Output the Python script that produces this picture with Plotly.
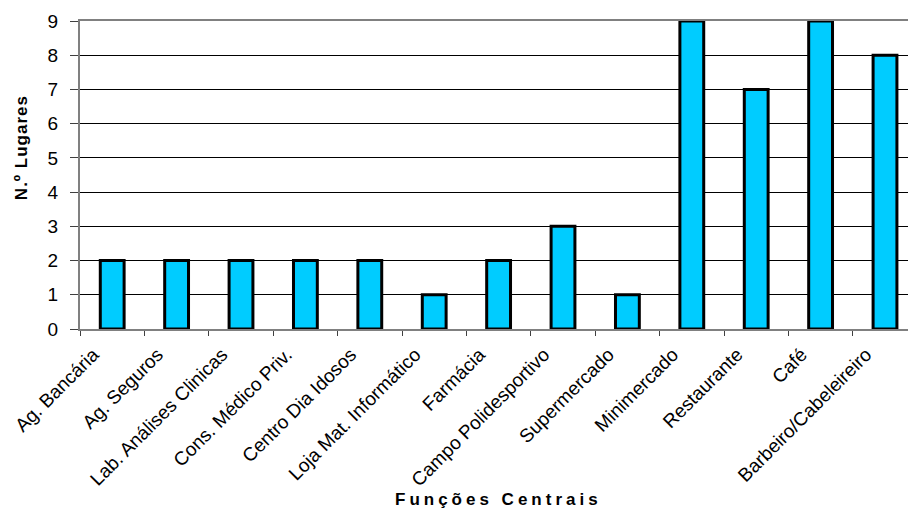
import plotly.graph_objects as go

categories = ["Ag. Bancária", "Ag. Seguros", "Lab. Análises Clinicas", "Cons. Médico Priv.",
              "Centro Dia Idosos", "Loja Mat. Informático", "Farmácia", "Campo Polidesportivo",
              "Supermercado", "Minimercado", "Restaurante", "Café", "Barbeiro/Cabeleireiro"]
values = [2, 2, 2, 2, 2, 1, 2, 3, 1, 9, 7, 9, 8]
y_ticks = [0, 1, 2, 3, 4, 5, 6, 7, 8, 9]

FONT = "Liberation Sans, Arial, sans-serif"

fig = go.Figure(go.Bar(
    x=categories, y=values, width=0.37,
    marker=dict(color="#00CCFF", line=dict(color="#000000", width=3)),
    hoverinfo="skip",
))

fig.update_layout(
    width=908, height=511,
    margin=dict(l=80, r=0, t=21, b=182),
    paper_bgcolor="white", plot_bgcolor="white",
    showlegend=False,
    font=dict(family=FONT, color="#000000"),
    xaxis=dict(
        type="category", range=[-0.5, 12.357], automargin=False,
        showline=True, linecolor="#808080", linewidth=2, mirror=True,
        showgrid=False, ticks="outside", tickson="boundaries", ticklen=5,
        tickcolor="#404040", tickangle=-45, tickfont=dict(size=19),
        ticklabelshift=-19, ticklabelstandoff=5,
    ),
    yaxis=dict(
        range=[0, 9], tickvals=y_ticks, automargin=False,
        showline=True, linecolor="#808080", linewidth=2,
        showgrid=True, gridcolor="#000000", gridwidth=1, zeroline=False,
        ticks="outside", ticklen=8, tickcolor="#404040",
        tickfont=dict(size=19), ticklabelstandoff=8,
    ),
    annotations=[
        dict(text="<b>N.º Lugares</b>", xref="paper", yref="paper",
             x=-0.070, y=0.589, textangle=-90, showarrow=False,
             font=dict(size=17), xanchor="center", yanchor="middle"),
        dict(text="<b>Funções Centrais</b>", xref="paper", yref="paper",
             x=0.506, y=-0.555, showarrow=False,
             font=dict(size=17), xanchor="center", yanchor="middle"),
    ],
)

post = """
var gd = document.getElementById('{plot_id}');
function ls(){
  var a = gd.querySelectorAll('.annotation-text');
  if (a[0]) a[0].style.letterSpacing='1px';
  if (a[1]) a[1].style.letterSpacing='4px';
}
ls();
if (gd.on) gd.on('plotly_afterplot', ls);
"""

fig.write_html("out.html", post_script=post)
